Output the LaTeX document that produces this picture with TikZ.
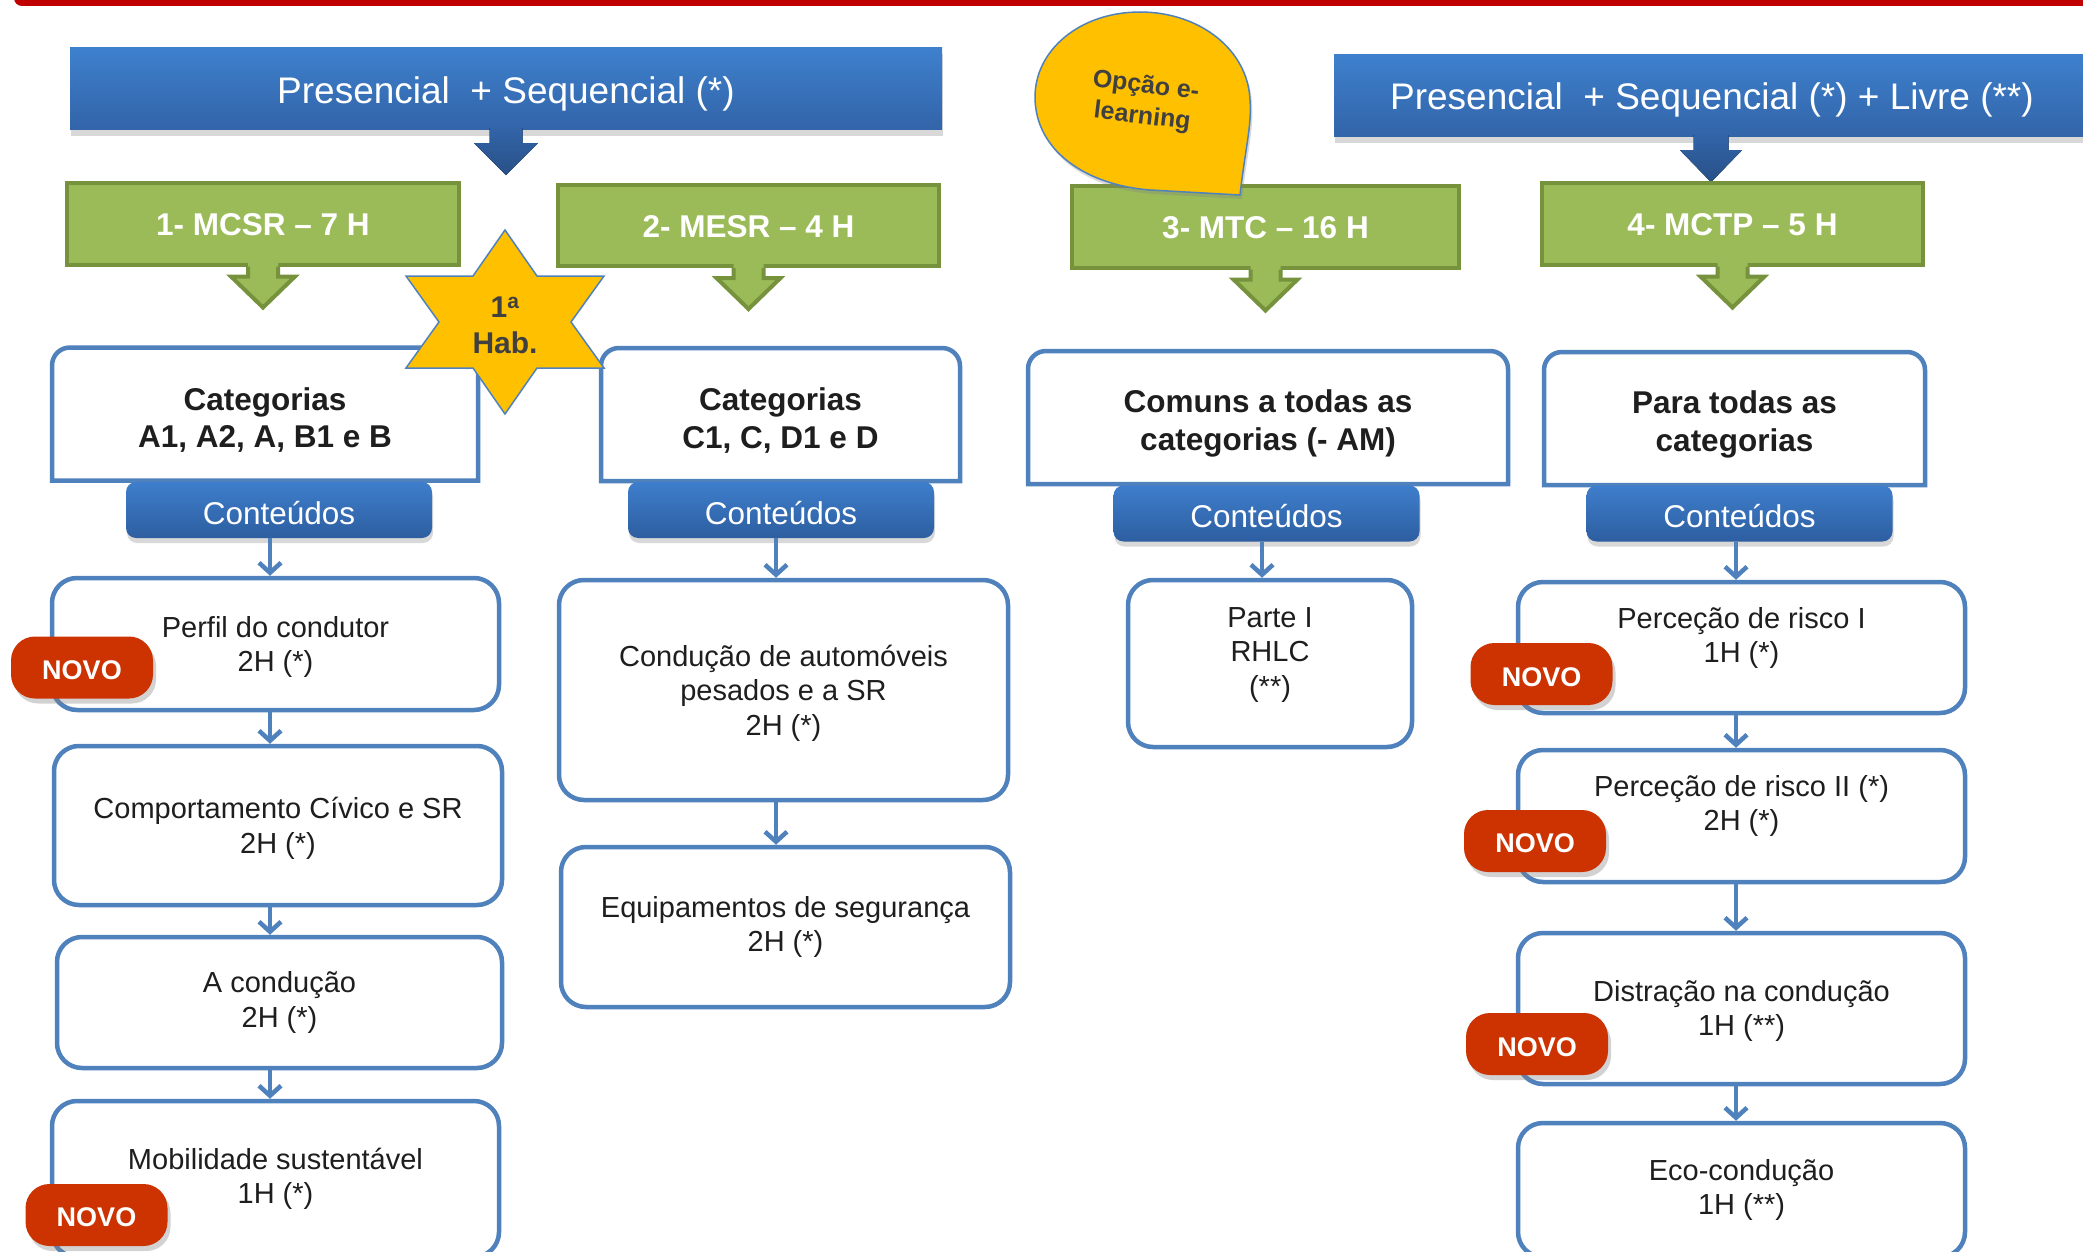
\documentclass[tikz,border=0pt]{standalone}
\usepackage{fontspec}
\setmainfont{Liberation Sans}
\usetikzlibrary{arrows.meta,shadows}
\definecolor{bannertop}{RGB}{62,128,205}
\definecolor{bannerbot}{RGB}{50,100,168}
\definecolor{btntop}{RGB}{62,126,204}
\definecolor{btnbot}{RGB}{45,94,160}
\definecolor{greenfill}{RGB}{155,187,89}
\definecolor{greenline}{RGB}{118,146,60}
\definecolor{boxblue}{RGB}{79,129,189}
\definecolor{novored}{RGB}{204,51,0}
\definecolor{staryellow}{RGB}{255,192,0}
\definecolor{topred}{RGB}{192,0,0}
\definecolor{txt}{RGB}{30,30,30}
\definecolor{startxt}{RGB}{64,64,64}
\newcommand\dropdown[2]{\raisebox{-#1}[\height][\depth]{#2}}
\tikzset{
 banner/.style={rectangle, inner sep=0pt, top color=bannertop, bottom color=bannerbot, text=white,
   font=\fontsize{37}{44}\selectfont, minimum height=82pt,
   drop shadow={shadow xshift=1pt, shadow yshift=-6pt, opacity=0.3}},
 bannerarrow/.style={top color=bannerbot, bottom color=bannerbot!80!black},
 greenbox/.style={rectangle, inner sep=0pt, fill=greenfill, draw=greenline, line width=4pt, text=white,
   font=\bfseries\fontsize{31.5}{38}\selectfont, minimum height=81pt},
 catframe/.style={rectangle, inner sep=0pt, outer sep=0pt, minimum height=133pt},
 cattext/.style={align=center, text=txt, inner sep=0pt,
   font=\bfseries\fontsize{31.5}{37.5}\selectfont},
 catline/.style={draw=boxblue, line width=4.5pt},
 button/.style={rectangle, rounded corners=10pt, inner sep=0pt, top color=btntop, bottom color=btnbot,
   text=white, font=\fontsize{31.5}{38}\selectfont, minimum width=306pt, minimum height=56pt,
   drop shadow={shadow xshift=1pt, shadow yshift=-5pt, opacity=0.3}},
 cbox/.style={rectangle, rounded corners=25pt, draw=boxblue, line width=4.5pt, fill=white, inner sep=0pt,
   align=center, text=txt, font=\fontsize{29}{34.5}\selectfont},
 ctext/.style={align=center, text=txt, font=\fontsize{29}{34.5}\selectfont, inner sep=0pt},
 novo/.style={rectangle, rounded corners=24pt, fill=novored, inner sep=0pt, minimum width=142pt,
   minimum height=62pt, text=white, font=\bfseries\fontsize{27}{32}\selectfont,
   drop shadow={shadow xshift=3pt, shadow yshift=-5pt, opacity=0.35}},
 conn/.style={draw=boxblue, line width=4.5pt, -{Straight Barb[length=10pt, width=22pt]}},
}
\newcommand\greenarrow[1]{%
  \fill[greenfill] ([xshift=-15pt,yshift=7pt]#1.south) -- ++(0,17) -- ++(-17,0) -- ++(32,31) -- ++(32,-31) -- ++(-17,0) -- ++(0,-17) -- cycle;
  \draw[greenline, line width=4pt, line join=miter] ([xshift=-15pt]#1.south) -- ++(0,10) -- ++(-17,0) -- ++(32,31) -- ++(32,-31) -- ++(-17,0) -- ++(0,-10);
}
\newcommand\catshape[1]{%
  \draw[catline] (#1.south west) -- ([yshift=-18pt]#1.north west)
    .. controls ([yshift=-8pt]#1.north west) and ([xshift=8pt]#1.north west) .. ([xshift=18pt]#1.north west)
    -- ([xshift=-18pt]#1.north east)
    .. controls ([xshift=-8pt]#1.north east) and ([yshift=-8pt]#1.north east) .. ([yshift=-18pt]#1.north east)
    -- (#1.south east) -- cycle;
}
\begin{document}
\begin{tikzpicture}[x=1pt,y=-1pt]
\useasboundingbox (0,0) rectangle (2083,1252);
\clip (0,0) rectangle (2083,1252);
\fill[white] (0,0) rectangle (2083,1252);
% top red bar
\fill[topred, rounded corners=8pt] (14,-20) rectangle (2110,6);

% banners
\node[banner, minimum width=872pt] (b1) at (506,89) {\dropdown{5pt}{Presencial\ \ + Sequencial (*)}};
\node[banner, minimum width=756pt] (b2) at (1712,96) {\dropdown{4pt}{Presencial\ \ + Sequencial (*) + Livre (**)}};
\fill[bannerarrow] ([xshift=-16.5pt,yshift=2pt]b1.south) -- ++(0,15) -- ++(-15.5,0) -- ++(32,32) -- ++(32,-32) -- ++(-15.5,0) -- ++(0,-15) -- cycle;
\fill[bannerarrow] ([xshift=-18.5pt,yshift=2pt]b2.south) -- ++(0,15) -- ++(-13.5,0) -- ++(31,32) -- ++(31,-32) -- ++(-13.5,0) -- ++(0,-15) -- cycle;

% green boxes
\node[greenbox, minimum width=392pt] (g1) at (263,224) {\dropdown{1pt}{1- MCSR – 7 H}};
\node[greenbox, minimum width=381pt] (g2) at (748.5,225.5) {\dropdown{1pt}{2- MESR – 4 H}};
\node[greenbox, minimum width=387pt] (g3) at (1265.5,227) {\dropdown{1pt}{3- MTC – 16 H}};
\node[greenbox, minimum width=381pt] (g4) at (1732.5,224) {\dropdown{1pt}{4- MCTP – 5 H}};
\greenarrow{g1}
\greenarrow{g2}
\greenarrow{g3}
\greenarrow{g4}

% e-learning drop
\filldraw[fill=staryellow, draw=boxblue, line width=1.5pt, drop shadow={shadow xshift=2pt, shadow yshift=-4pt, opacity=0.3}]
  (1240,195) .. controls (1245,150) and (1252,125) .. (1250,100)
  .. controls (1248,50) and (1200,12) .. (1140,12)
  .. controls (1080,12) and (1035,50) .. (1035,97)
  .. controls (1035,150) and (1085,185) .. (1150,190) -- cycle;
\node[rotate=-7, align=center, text=startxt, inner sep=0pt, font=\bfseries\fontsize{25}{31}\selectfont] (elearn) at (1144,102) {Opção e-\\learning};

% category boxes
\node[catframe, minimum width=426pt] (cat1) at (265,414) {};
\node[catframe, minimum width=359pt] (cat2) at (780.5,414.5) {};
\node[catframe, minimum width=480pt] (cat3) at (1268,417.5) {};
\node[catframe, minimum width=381pt] (cat4) at (1734.5,418.5) {};
\catshape{cat1}
\catshape{cat2}
\catshape{cat3}
\catshape{cat4}
\node[cattext] (cat1t) at ([yshift=-6pt]cat1.center) {Categorias\\A1, A2, A, B1 e B};
\node[cattext] (cat2t) at ([yshift=-6pt]cat2.center) {Categorias\\C1, C, D1 e D};
\node[cattext] (cat3t) at ([yshift=-6pt]cat3.center) {Comuns a todas as\\categorias (- AM)};
\node[cattext] (cat4t) at ([yshift=-6pt]cat4.center) {Para todas as\\categorias};

% star
\filldraw[fill=staryellow, draw=boxblue, line width=1.5pt, line join=miter]
  (505,230) -- (537,276) -- (604,276) -- (571,322) -- (604,368) -- (537,368) -- (505,414)
  -- (473,368) -- (406,368) -- (439,322) -- (406,276) -- (473,276) -- cycle;
\node[align=center, text=startxt, inner sep=0pt, font=\bfseries\fontsize{30}{36}\selectfont] (hab) at (505,325) {1\textsuperscript{a}\\Hab.};

% Conteudos buttons
\node[button] (k1) at (279,510) {\dropdown{3pt}{Conteúdos}};
\node[button] (k2) at (781,510) {\dropdown{3pt}{Conteúdos}};
\node[button] (k3) at (1266.5,513.5) {\dropdown{3pt}{Conteúdos}};
\node[button] (k4) at (1739.5,513.5) {\dropdown{3pt}{Conteúdos}};

% content boxes column 1
\node[cbox, minimum width=447pt, minimum height=132pt] (p1) at (275.5,644) {};
\node[ctext] (p1t) at (275.5,647) {Perfil do condutor\\2H (*)};
\node[cbox, minimum width=448pt, minimum height=159pt] (p2) at (278,825.5) {};
\node[ctext] (p2t) at (278,828.5) {Comportamento Cívico e SR\\2H (*)};
\node[cbox, minimum width=445pt, minimum height=131pt] (p3) at (279.5,1002.5) {A condução\\2H (*)};
\node[cbox, minimum width=447pt, minimum height=156pt] (p4) at (275.5,1179) {Mobilidade sustentável\\1H (*)};
% column 2
\node[cbox, minimum width=449pt, minimum height=220pt] (q1) at (783.5,690) {};
\node[ctext] (q1t) at (783.5,693) {Condução de automóveis\\pesados e a SR\\2H (*)};
\node[cbox, minimum width=449pt, minimum height=160pt] (q2) at (785.5,927) {Equipamentos de segurança\\2H (*)};
% column 3
\node[cbox, minimum width=284pt, minimum height=167pt] (r1) at (1270,663.5) {};
\node[ctext] (r1t) at (1270,655) {Parte I\\RHLC\\(**)};
% column 4
\node[cbox, minimum width=447pt, minimum height=131pt] (s1) at (1741.5,647.5) {};
\node[ctext] (s1t) at (1741.5,638) {Perceção de risco I\\1H (*)};
\node[cbox, minimum width=447pt, minimum height=132pt] (s2) at (1741.5,816) {};
\node[ctext] (s2t) at (1741.5,806) {Perceção de risco II (*)\\2H (*)};
\node[cbox, minimum width=447pt, minimum height=151pt] (s3) at (1741.5,1008.5) {};
\node[ctext] (s3t) at (1741.5,1011) {Distração na condução\\1H (**)};
\node[cbox, minimum width=447pt, minimum height=134pt] (s4) at (1741.5,1190) {Eco-condução\\1H (**)};

% connectors
\coordinate (x1) at (270,0);
\coordinate (x2) at (776,0);
\coordinate (x3) at (1262,0);
\coordinate (x4) at (1736,0);
\draw[conn] (k1.south -| x1) -- (p1.north -| x1);
\draw[conn] (p1.south -| x1) -- (p2.north -| x1);
\draw[conn] (p2.south -| x1) -- (p3.north -| x1);
\draw[conn] (p3.south -| x1) -- (p4.north -| x1);
\draw[conn] (k2.south -| x2) -- (q1.north -| x2);
\draw[conn] (q1.south -| x2) -- (q2.north -| x2);
\draw[conn] (k3.south -| x3) -- (r1.north -| x3);
\draw[conn] (k4.south -| x4) -- (s1.north -| x4);
\draw[conn] (s1.south -| x4) -- (s2.north -| x4);
\draw[conn] (s2.south -| x4) -- (s3.north -| x4);
\draw[conn] (s3.south -| x4) -- (s4.north -| x4);

% NOVO badges
\node[novo] (n1) at (82,667.5) {\dropdown{3pt}{NOVO}};
\node[novo] (n2) at (96.5,1215) {\dropdown{2pt}{NOVO}};
\node[novo] (n3) at (1541.5,674) {\dropdown{3pt}{NOVO}};
\node[novo] (n4) at (1535,841) {\dropdown{2pt}{NOVO}};
\node[novo] (n5) at (1537,1044) {\dropdown{3pt}{NOVO}};
\end{tikzpicture}
\end{document}
